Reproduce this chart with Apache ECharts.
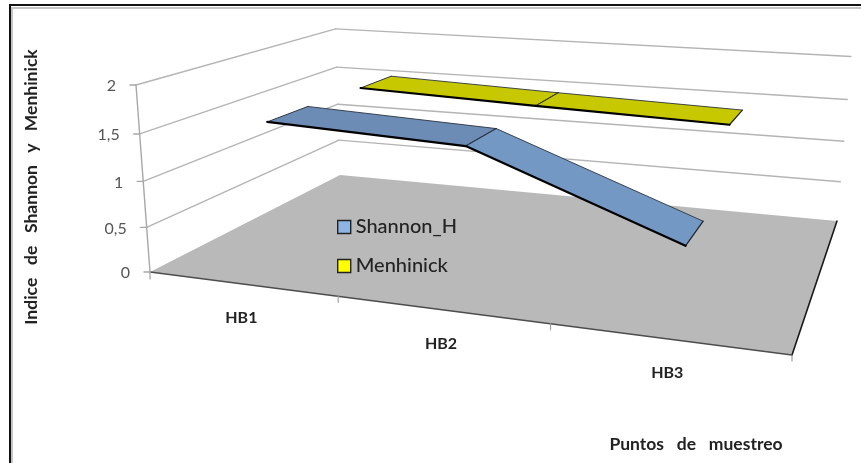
<!DOCTYPE html>
<html><head><meta charset="utf-8">
<style>html,body{margin:0;padding:0;background:#fff}#c{width:861px;height:463px}</style>
<script src="https://cdn.jsdelivr.net/npm/echarts@6/dist/echarts.min.js"></script>
</head><body><div id="c"></div>
<script>
const categories = ['HB1', 'HB2', 'HB3'];
const shannonH = [1.57, 1.48, 0.69];
const menhinick = [1.55, 1.48, 1.42];
const valueTicks = [0, 0.5, 1, 1.5, 2];
const tickLabels = ['0', '0,5', '1', '1,5', '2'];
const yTitle = 'Indice\u00a0\u00a0\u00a0de\u00a0\u00a0\u00a0Shannon\u00a0\u00a0\u00a0y\u00a0\u00a0\u00a0Menhinick';
const xTitle = 'Puntos\u00a0\u00a0\u00a0de\u00a0\u00a0\u00a0muestreo';

// Perspective of the 3D box: floor plane quad (front-left, front-right, back-right, back-left),
// the vanishing point of its verticals and the on-screen height of the front-left edge.
const floorQuad = [[150, 272], [792, 355], [837, 221], [340, 175]];
const verticalVanish = [470, 4547];
const frontHeight = 187;
const foreshorten = 0.06;

function quadMap(q) {
  const [[x0, y0], [x1, y1], [x2, y2], [x3, y3]] = q;
  const dx1 = x1 - x2, dx2 = x3 - x2, dx3 = x0 - x1 + x2 - x3;
  const dy1 = y1 - y2, dy2 = y3 - y2, dy3 = y0 - y1 + y2 - y3;
  const det = dx1 * dy2 - dx2 * dy1;
  const g = (dx3 * dy2 - dx2 * dy3) / det, h = (dx1 * dy3 - dx3 * dy1) / det;
  const a = x1 - x0 + g * x1, b = x3 - x0 + h * x3;
  const d = y1 - y0 + g * y1, e = y3 - y0 + h * y3;
  return (u, t) => {
    const w = g * u + h * t + 1;
    return [(a * u + b * t + x0) / w, (d * u + e * t + y0) / w, w];
  };
}
const floorMap = quadMap(floorQuad);
// u: position along categories 0..1, t: depth 0..1, v: height 0..1
function project(u, t, v) {
  const p = floorMap(u, t);
  const f = v * (1 - foreshorten) / (1 - foreshorten * v);
  const height = (frontHeight + 4 * t * (1 - u)) / p[2] * f;
  const lean = (verticalVanish[0] - p[0]) / (verticalVanish[1] - p[1]);
  return [p[0] - lean * height, p[1] - height];
}
// Convert a data pair through the (hidden) ECharts axes to normalised box coordinates
function norm(params, api, cat, val) {
  const c = api.coord([cat, val]), s = params.coordSys;
  return [(c[0] - s.x) / s.width, 1 - (c[1] - s.y) / s.height];
}
const line = (a, b, stroke, lineWidth) => ({
  type: 'line', silent: true,
  shape: { x1: a[0], y1: a[1], x2: b[0], y2: b[1] },
  style: { stroke, lineWidth, lineCap: 'round' }
});
const labelFont = 'Lato, sans-serif';

function renderBox(params, api) {
  const val = api.value(0), label = tickLabels[params.dataIndex];
  const v = norm(params, api, 0, val)[1];
  const fl = project(0, 0, v), bl = project(0, 1, v), br = project(1, 1, v);
  const children = [];
  if (val > 0) {
    children.push(line(fl, bl, '#b4b4b4', 1.4), line(bl, br, '#b4b4b4', 1.4));
    children.push(line(fl, project(0, 0, v - 0.25), '#a8a8a8', 1.4));
  }
  children.push(line(fl, [fl[0] - 6, fl[1]], '#a8a8a8', 1.4));
  children.push({
    type: 'text', silent: true,
    style: { text: label, x: fl[0] - 20, y: fl[1] + 1, align: 'right', verticalAlign: 'middle',
      fill: '#555', font: '16px ' + labelFont }
  });
  return { type: 'group', children };
}

function renderFloor(params, api) {
  const a = floorQuad;
  const t1 = project(1 / 3, 0, 0), t2 = project(2 / 3, 0, 0);
  return {
    type: 'group',
    children: [
      { type: 'polygon', silent: true, shape: { points: a }, style: { fill: '#b9b9b9' } },
      line(a[0], a[1], '#4d4d4d', 1.4),
      line(a[1], a[2], '#1a1a1a', 1.6),
      line(a[1], [a[1][0], a[1][1] + 6], '#a0a0a0', 1.2),
      line(a[0], [a[0][0], a[0][1] + 7], '#a0a0a0', 1.2),
      line(t1, [t1[0], t1[1] + 6], '#a0a0a0', 1.2),
      line(t2, [t2[0], t2[1] + 6], '#a0a0a0', 1.2)
    ]
  };
}

function renderCategory(params, api) {
  const i = api.value(0);
  const u = norm(params, api, i, 0)[0];
  const p = project(u, 0, 0);
  return {
    type: 'text', silent: true,
    style: { text: categories[i], x: p[0], y: p[1] + 34, align: 'center', verticalAlign: 'middle',
      fill: '#222', font: 'bold 16px ' + labelFont }
  };
}

function ribbon(depth0, depth1, fills) {
  return function (params, api) {
    const i = api.value(0), a = api.value(1), b = api.value(2);
    const A = norm(params, api, i, a), B = norm(params, api, i + 1, b);
    const f0 = project(A[0], depth0, A[1]), f1 = project(B[0], depth0, B[1]);
    const b1 = project(B[0], depth1, B[1]), b0 = project(A[0], depth1, A[1]);
    return {
      type: 'group',
      children: [
        { type: 'polygon', silent: true, shape: { points: [f0, f1, b1, b0] }, style: { fill: fills[i] } },
        line(b0, b1, '#2b3440', 0.9),
        line(f0, b0, '#2b3440', 1),
        line(f1, b1, '#1d232b', 1.2),
        line(f0, f1, '#000', 2.2)
      ]
    };
  };
}

function ribbonData(values) {
  return values.slice(0, -1).map((v, i) => [i, v, values[i + 1]]);
}

const chart = echarts.init(document.getElementById('c'), null, { renderer: 'canvas' });
chart.setOption({
  animation: false,
  backgroundColor: '#fff',
  grid: { left: 0, right: 0, top: 0, bottom: 0 },
  xAxis: { type: 'category', data: categories, show: false },
  yAxis: { type: 'value', min: 0, max: 2, interval: 0.5, show: false },
  legend: {
    orient: 'vertical', left: 332, top: 212, itemWidth: 13, itemHeight: 13, itemGap: 19,
    selectedMode: false,
    textStyle: { fontFamily: labelFont, fontSize: 20, fontWeight: 500, color: '#222' },
    data: [
      { name: 'Shannon_H', icon: 'rect', itemStyle: { color: '#8db4e2', borderColor: '#222', borderWidth: 1.4 } },
      { name: 'Menhinick', icon: 'rect', itemStyle: { color: '#ffff00', borderColor: '#222', borderWidth: 1.4 } }
    ]
  },
  graphic: [
    { type: 'rect', silent: true, shape: { x: 9, y: 4, width: 852, height: 2 }, style: { fill: '#111' } },
    { type: 'rect', silent: true, shape: { x: 11, y: 7, width: 850, height: 2 }, style: { fill: '#c4c4c4' } },
    { type: 'rect', silent: true, shape: { x: 9, y: 4, width: 2, height: 459 }, style: { fill: '#111' } },
    { type: 'rect', silent: true, shape: { x: 11, y: 7, width: 2, height: 456 }, style: { fill: '#c4c4c4' } },
    { type: 'text', silent: true, rotation: Math.PI / 2, x: 31, y: 187,
      style: { text: yTitle, align: 'center', verticalAlign: 'middle', fill: '#222', font: 'bold 17.5px ' + labelFont } },
    { type: 'text', silent: true, x: 696, y: 444,
      style: { text: xTitle, align: 'center', verticalAlign: 'middle', fill: '#222', font: 'bold 17.5px ' + labelFont } }
  ],
  series: [
    { type: 'custom', name: 'floor', coordinateSystem: 'cartesian2d', data: [[0, 0]], renderItem: renderFloor, silent: true, z: 1 },
    { type: 'custom', name: 'walls', coordinateSystem: 'cartesian2d', data: valueTicks.map(v => [v]), encode: { y: 0 }, renderItem: renderBox, silent: true, z: 2 },
    { type: 'custom', name: 'categories', coordinateSystem: 'cartesian2d', data: categories.map((c, i) => [i]), encode: { x: 0 }, renderItem: renderCategory, silent: true, z: 2 },
    { type: 'custom', name: 'Menhinick', coordinateSystem: 'cartesian2d', data: ribbonData(menhinick), encode: { x: 0, y: 1 },
      renderItem: ribbon(0.65, 0.85, ['#c8c800', '#c8c800']), silent: true, z: 3, itemStyle: { color: '#ffff00' } },
    { type: 'custom', name: 'Shannon_H', coordinateSystem: 'cartesian2d', data: ribbonData(shannonH), encode: { x: 0, y: 1 },
      renderItem: ribbon(0.15, 0.35, ['#6c8cb5', '#7398c4']), silent: true, z: 4, itemStyle: { color: '#8db4e2' } }
  ]
});
</script></body></html>
